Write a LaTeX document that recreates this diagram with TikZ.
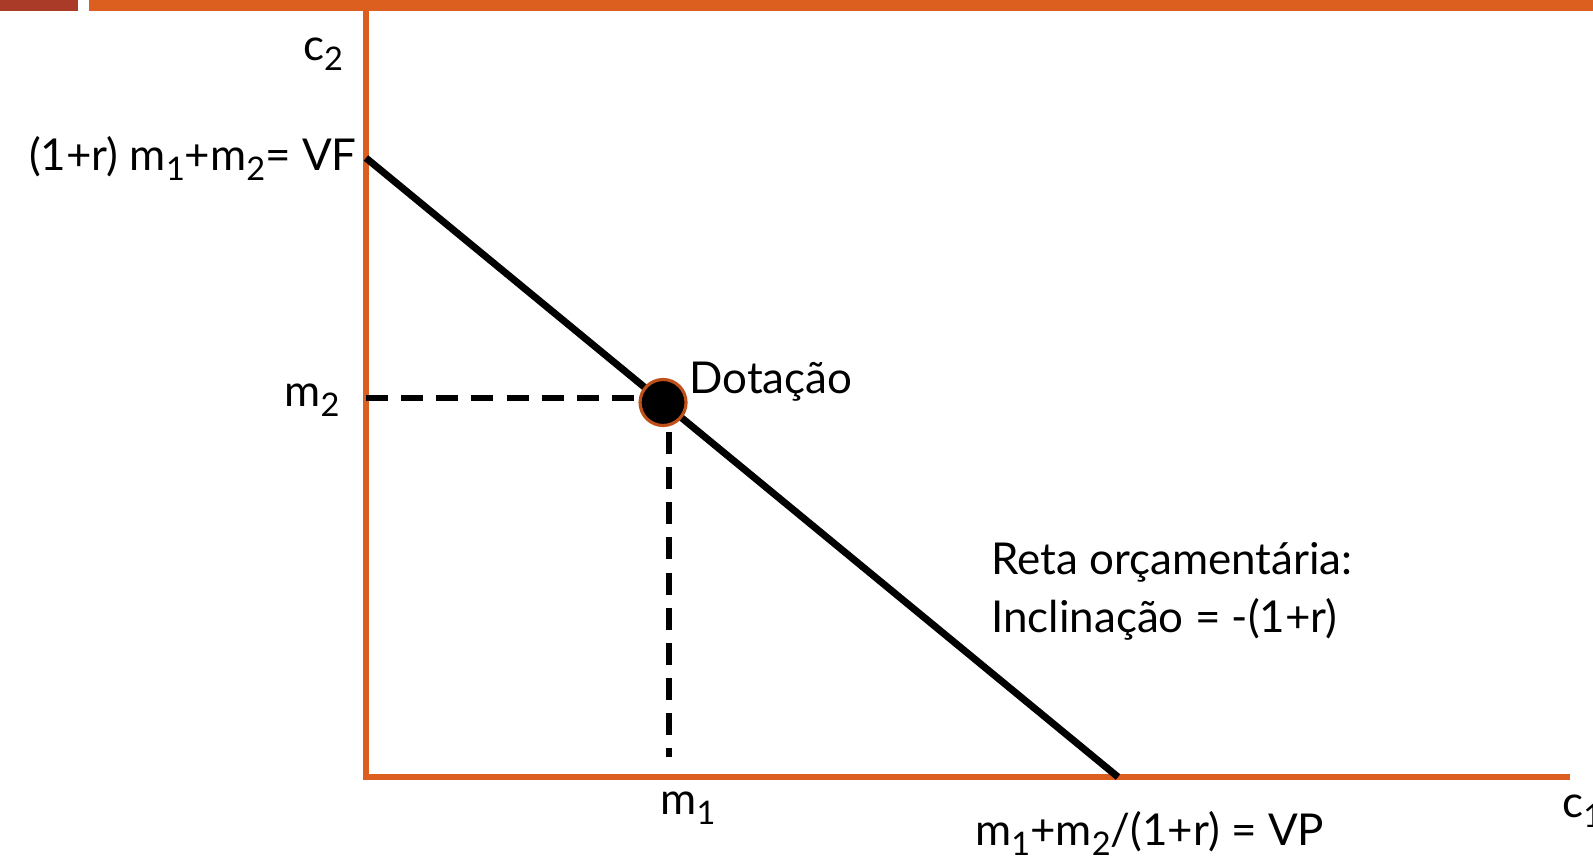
\documentclass[tikz,border=0pt]{standalone}
\usepackage{fontspec}
\setmainfont{Lato}
\usetikzlibrary{calc}
\definecolor{axisorange}{HTML}{DD5F1F}
\definecolor{barred}{HTML}{A93B28}
\definecolor{dotrim}{HTML}{C0501A}
\newcommand{\lo}[1]{\raisebox{-0.45ex}{\fontsize{18.5}{18.5}\selectfont #1}}

\begin{document}
\begin{tikzpicture}[x=0.02cm, y=-0.02cm,
  lbl/.style={font=\fontsize{25}{29}\selectfont, inner sep=0pt},
  axis/.style={draw=axisorange, line width=3.6pt},
  guide/.style={dash pattern=on 12.5pt off 7.5pt, line width=3.1pt},
  budget/.style={line width=4pt}]
  \useasboundingbox (0,0) rectangle (1593,857);
  % Top bars
  \fill[barred] (0,0) rectangle (78,11);
  \fill[axisorange] (89,0) rectangle (1593,11);
  % Axes
  \coordinate (origin) at (366,777);
  \coordinate (c2top) at (366,11);
  \coordinate (c1end) at (1570,777);
  \draw[axis] (c2top) -- (origin) -- (c1end);
  % Budget line
  \coordinate (VF) at (366,158);
  \coordinate (VP) at (1118,777);
  \draw[budget] (VF) -- (VP);
  % Guides to endowment
  \coordinate (m2pt) at (366,398);
  \coordinate (m2end) at (648,398);
  \coordinate (m1top) at (669,432);
  \coordinate (m1pt) at (669,757);
  \draw[guide] (m2pt) -- (m2end);
  \draw[guide] (m1top) -- (m1pt);
  % Endowment point
  \node[circle, fill=black, draw=dotrim, line width=1.8pt, minimum size=0.92cm, inner sep=0pt] (dot) at ($(VF)!0.395!(VP)$) {};
  % Labels
  \node[lbl] (c2lbl) at (323,54) {c\lo{2}};
  \node[lbl, anchor=east] (vflbl) at (357,158) {(1+r) m\lo{1}+m\lo{2}= VF};
  \node[lbl] (m2lbl) at (312,400) {m\lo{2}};
  \node[lbl, anchor=west] (dotlbl) at (689,382) {Dotação};
  \node[lbl, anchor=west] (retalbl) at (991,562) {Reta orçamentária:};
  \node[lbl, anchor=west] (inclbl) at (991,619) {Inclinação = -(1+r)};
  \node[lbl] (m1lbl) at (688,808) {m\lo{1}};
  \node[lbl, anchor=west] (vplbl) at (975,833) {m\lo{1}+m\lo{2}/(1+r) = VP};
  \node[lbl, anchor=west] (c1lbl) at (1562,811) {c\lo{1}};
\end{tikzpicture}
\end{document}
